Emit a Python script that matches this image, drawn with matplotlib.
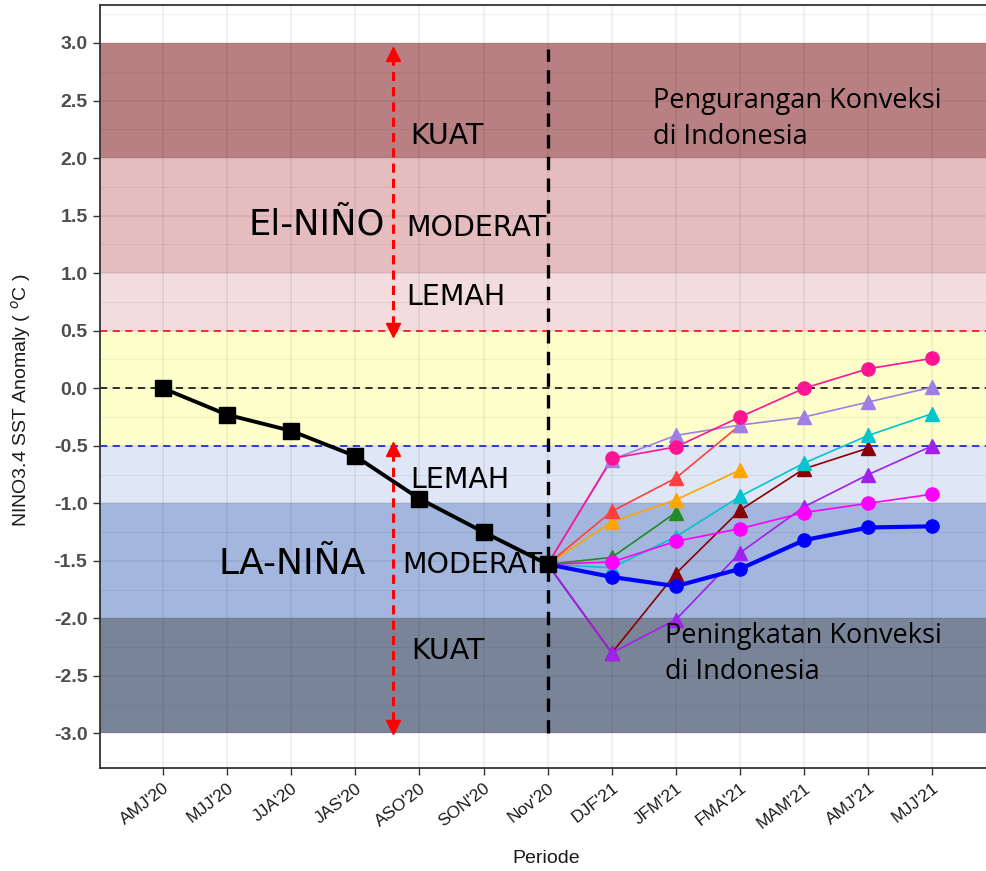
import numpy as np
import matplotlib
matplotlib.use('Agg')
import matplotlib.pyplot as plt

# data
periods = ["AMJ'20", "MJJ'20", "JJA'20", "JAS'20", "ASO'20", "SON'20", "Nov'20",
           "DJF'21", "JFM'21", "FMA'21", "MAM'21", "AMJ'21", "MJJ'21"]
observed = [0.0, -0.23, -0.37, -0.59, -0.96, -1.25, -1.53]

# forecasts start from Nov'20 (index 6)
fc_deeppink = [-1.53, -0.61, -0.51, -0.25, 0.0, 0.17, 0.26]
fc_lavender = [-1.53, -0.62, -0.41, -0.32, -0.25, -0.12, 0.01]
fc_red = [-1.53, -1.07, -0.78, -0.32]
fc_orange = [-1.53, -1.16, -0.97, -0.71]
fc_green = [-1.53, -1.47, -1.08]
fc_cyan = [-1.53, -1.56, -1.29, -0.94, -0.65, -0.41, -0.22]
fc_maroon = [-1.53, -2.30, -1.61, -1.06, -0.70, -0.52]
fc_purple = [-1.53, -2.30, -2.01, -1.43, -1.03, -0.75, -0.50]
fc_magenta = [-1.53, -1.51, -1.33, -1.22, -1.08, -1.00, -0.92]
fc_blue = [-1.53, -1.64, -1.72, -1.57, -1.32, -1.21, -1.20]

band_edges = [-3.0, -2.0, -1.0, -0.5, 0.5, 1.0, 2.0, 3.0]
band_colors = ['#7a8499', '#a3b6de', '#dfe6f6', '#ffffcc', '#f2dcdd', '#e5bdbf', '#b88082']

fig = plt.figure(figsize=(9.86, 8.71), dpi=100)
ax = fig.add_axes([100 / 986, 103 / 871, 903 / 986, 763 / 871])
ax.set_xlim(-0.98, 13.1)
ax.set_ylim(-3.30, 3.33)

# bands
for i, c in enumerate(band_colors):
    ax.axhspan(band_edges[i], band_edges[i + 1], color=c, zorder=0, lw=0)

# grid drawn over bands, very faint
ax.set_yticks(np.arange(-3.0, 3.01, 0.5))
ax.set_yticks(np.arange(-3.25, 3.3, 0.5), minor=True)
ax.set_xticks(range(len(periods)))
ax.grid(True, which='major', color='black', alpha=0.07, lw=1.1, zorder=1)
ax.grid(True, which='minor', axis='y', color='black', alpha=0.05, lw=0.8, zorder=1)
ax.set_axisbelow(False)

# threshold lines
ax.axhline(0.5, color='#ff2020', ls=(0, (4, 3)), lw=1.3, zorder=2)
ax.axhline(0.0, color='#222222', ls=(0, (4, 3)), lw=1.3, zorder=2)
ax.axhline(-0.5, color='#2030e0', ls=(0, (4, 3)), lw=1.3, zorder=2)
ax.plot([6, 6], [-3.0, 2.95], color='black', ls=(0, (4, 2.5)), lw=2.4, zorder=2)

# red dashed arrows
ax_x = 3.59
for y0, y1 in [(0.55, 2.88), (-0.55, -2.9)]:
    ax.plot([ax_x, ax_x], [y0, y1], color='#ff0000', ls=(0, (3, 2)), lw=2.2, zorder=3)
ax.plot(ax_x, 2.9, marker='^', color='#ff0000', ms=10, zorder=3)
ax.plot(ax_x, 0.51, marker='v', color='#ff0000', ms=10, zorder=3)
ax.plot(ax_x, -0.53, marker='^', color='#ff0000', ms=10, zorder=3)
ax.plot(ax_x, -2.94, marker='v', color='#ff0000', ms=10, zorder=3)

# forecasts
def fc(vals, color, marker, lw=1.2, ms=9.5, z=4):
    x = np.arange(6, 6 + len(vals))
    ax.plot(x[1:], vals[1:], ls='none', marker=marker, color=color, ms=ms, zorder=z + 0.5)
    ax.plot(x, vals, color=color, lw=lw, zorder=z)

fc(fc_maroon, '#8b0000', '^')
fc(fc_purple, '#a020f0', '^')
fc(fc_green, '#228b22', '^')
fc(fc_orange, '#ffa500', '^')
fc(fc_red, '#ff4040', '^')
fc(fc_cyan, '#00c5cd', '^')
fc(fc_lavender, '#9f7fe6', '^')
fc(fc_deeppink, '#ff1493', 'o')
fc(fc_magenta, '#ff00ff', 'o')
fc(fc_blue, '#0000ff', 'o', lw=3.0, ms=9.5, z=5)

# observed
ax.plot(range(len(observed)), observed, color='black', lw=2.8, marker='s', ms=11, zorder=6)

# annotations
tfont = 'DejaVu Sans'
for x, y, s in [(3.85, 2.19, 'KUAT'), (3.79, 1.39, 'MODERAT'), (3.79, 0.79, 'LEMAH'),
                (3.85, -0.80, 'LEMAH'), (3.74, -1.54, 'MODERAT'), (3.88, -2.28, 'KUAT')]:
    ax.text(x, y, s, fontsize=20.5, family=tfont, va='center', ha='left', zorder=7)
ax.text(1.33, 1.42, 'El-NIÑO', fontsize=25.5, family=tfont, va='center', ha='left', zorder=7)
ax.text(0.86, -1.53, 'LA-NIÑA', fontsize=26, family=tfont, va='center', ha='left', zorder=7)
ax.text(7.64, 2.34, 'Pengurangan Konveksi\ndi Indonesia', fontsize=19.5, family='Open Sans',
        va='center', ha='left', linespacing=1.4, zorder=7)
ax.text(7.83, -2.31, 'Peningkatan Konveksi\ndi Indonesia', fontsize=19.5, family='Open Sans',
        va='center', ha='left', linespacing=1.4, zorder=7)

# axes styling
ax.set_xticklabels(periods, rotation=38, ha='right', rotation_mode='anchor',
                   fontsize=12.5, family='Liberation Sans', color='#1a1a1a')
ax.set_yticklabels([f'{v:.1f}' for v in np.arange(-3.0, 3.01, 0.5)],
                   fontsize=14, fontweight='bold', family='Liberation Sans', color='#4d4d4d')
ax.tick_params(axis='both', which='major', length=5, color='#333333', width=1, pad=4)
ax.tick_params(axis='y', which='minor', length=0)
for side in ['left', 'top', 'bottom']:
    ax.spines[side].set_color('#333333')
    ax.spines[side].set_linewidth(1.3)
ax.spines['right'].set_visible(False)

fig.text(546 / 986, 1 - 858 / 871, 'Periode', fontsize=14, family='Liberation Sans',
         color='#1a1a1a', ha='center', va='center')
fig.text(21 / 986, 1 - 400 / 871, 'NINO3.4 SST Anomaly ( $^{o}$C )', fontsize=14,
         family='Liberation Sans', color='#1a1a1a', ha='center', va='center', rotation=90)

fig.savefig('out.png', dpi=100)
